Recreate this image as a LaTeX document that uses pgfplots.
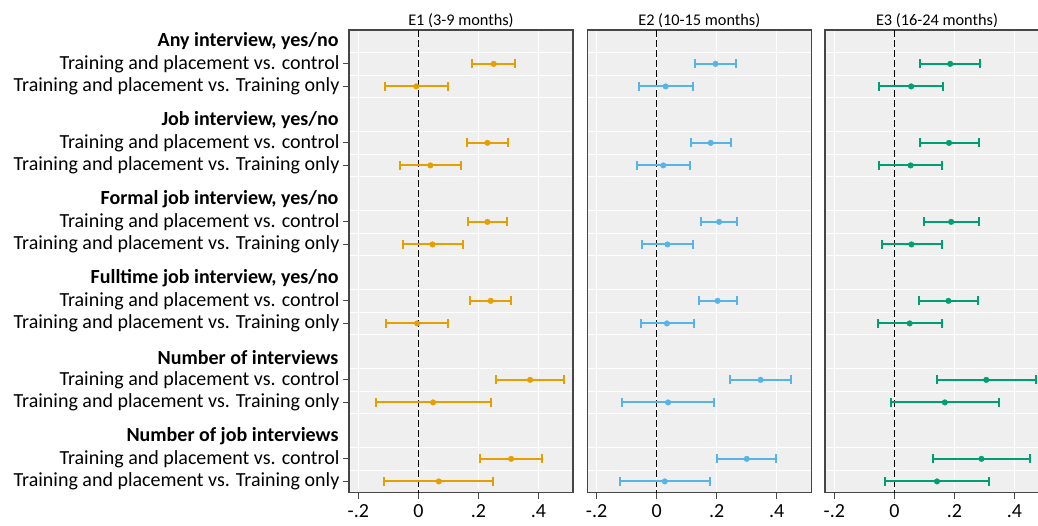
\documentclass[border=0pt]{standalone}
\usepackage{fontspec}
\setmainfont{Carlito}
\usepackage{pgfplots}
\usepackage{pgfplotstable}
\pgfplotsset{compat=1.18}
\definecolor{cE1}{RGB}{230,159,0}
\definecolor{cE2}{RGB}{86,180,233}
\definecolor{cE3}{RGB}{0,158,115}
\definecolor{bgc}{RGB}{239,239,239}
\definecolor{axc}{RGB}{70,70,70}

\pgfplotstableread{
y lo b hi
2 0.179 0.251 0.323
3 -0.110 -0.007 0.100
5.5 0.162 0.230 0.299
6.5 -0.062 0.040 0.141
9 0.166 0.230 0.294
10 -0.051 0.047 0.147
12.5 0.171 0.241 0.310
13.5 -0.109 -0.004 0.100
16 0.260 0.372 0.484
17 -0.142 0.049 0.241
19.5 0.206 0.309 0.413
20.5 -0.113 0.068 0.248
}\tabA
\pgfplotstableread{
y lo b hi
2 0.129 0.196 0.263
3 -0.059 0.030 0.120
5.5 0.114 0.180 0.246
6.5 -0.066 0.022 0.111
9 0.148 0.208 0.269
10 -0.050 0.036 0.122
12.5 0.141 0.203 0.267
13.5 -0.053 0.034 0.124
16 0.244 0.346 0.448
17 -0.117 0.038 0.191
19.5 0.200 0.300 0.399
20.5 -0.123 0.027 0.177
}\tabB
\pgfplotstableread{
y lo b hi
2 0.087 0.186 0.286
3 -0.051 0.056 0.161
5.5 0.086 0.182 0.281
6.5 -0.050 0.054 0.160
9 0.099 0.189 0.281
10 -0.041 0.057 0.157
12.5 0.083 0.180 0.278
13.5 -0.053 0.051 0.157
16 0.142 0.306 0.471
17 -0.011 0.168 0.347
19.5 0.130 0.290 0.452
20.5 -0.032 0.142 0.316
}\tabC

\pgfplotsset{
  panel/.style={
    anchor=south west, scale only axis,
    width=224pt, height=462.7pt,
    xmin=-0.231, xmax=0.515, ymin=0.5, ymax=21, y dir=reverse,
    axis background/.style={fill=bgc},
    axis line style={draw=axc, line width=1.3pt},
    xtick={-0.2,0,0.2,0.4}, xticklabels={-.2,0,.2,.4},
    xmajorgrids, major grid style={white, line width=1.1pt},
    ytick={2,3,5.5,6.5,9,10,12.5,13.5,16,17,19.5,20.5},
    minor ytick={1.5,2.5,3.5,5,6,7,8.5,9.5,10.5,12,13,14,15.5,16.5,17.5,19,20,21},
    yminorgrids, minor grid style={white, line width=1.1pt},
    minor tick length=0pt,
    tick align=outside, major tick length=6pt,
    tick style={draw=axc, line width=1pt},
    xtick pos=lower, ytick pos=left,
    tick label style={font=\fontsize{20}{24}\selectfont, text=black},
    xticklabel style={yshift=-2pt},
    title style={font=\fontsize{16.3}{19}\selectfont, at={(0.5,1)}, anchor=base, yshift=-1pt},
    /pgf/number format/assume math mode=true,
  },
  ci/.style={only marks, mark=*, mark size=2.8pt, color=#1,
    error bars/.cd, x dir=both, x explicit,
    error bar style={line width=2pt, color=#1},
    error mark options={line width=2pt, mark size=4.5pt, color=#1, rotate=90}},
  zl/.style={black, line width=1.2pt, dash pattern=on 7pt off 3pt},
}

\begin{document}
\begin{tikzpicture}[x=1pt,y=1pt]
\useasboundingbox (0,0) rectangle (1038,525);
\begin{axis}[panel, at={(349pt,32.3pt)}, title={E1 (3-9 months)},
  yticklabels={Training and placement vs. control, Training and placement vs. Training only,
    Training and placement vs. control, Training and placement vs. Training only,
    Training and placement vs. control, Training and placement vs. Training only,
    Training and placement vs. control, Training and placement vs. Training only,
    Training and placement vs. control, Training and placement vs. Training only,
    Training and placement vs. control, Training and placement vs. Training only},
  extra y ticks={1,4.5,8,11.5,15,18.5},
  extra y tick labels={{Any interview, yes/no},{Job interview, yes/no},{Formal job interview, yes/no},{Fulltime job interview, yes/no},{Number of interviews},{Number of job interviews}},
  extra y tick style={major tick length=0pt, yticklabel style={font=\fontsize{20}{24}\selectfont\bfseries, xshift=-7pt}},
]
\addplot[zl] coordinates {(0,0.5) (0,21)};
\addplot[ci=cE1] table[x=b, y=y, x error plus expr=\thisrow{hi}-\thisrow{b}, x error minus expr=\thisrow{b}-\thisrow{lo}] {\tabA};
\end{axis}
\begin{axis}[panel, at={(587.3pt,32.3pt)}, title={E2 (10-15 months)},
  yticklabels={}, ytick style={draw=none}]
\addplot[zl] coordinates {(0,0.5) (0,21)};
\addplot[ci=cE2] table[x=b, y=y, x error plus expr=\thisrow{hi}-\thisrow{b}, x error minus expr=\thisrow{b}-\thisrow{lo}] {\tabB};
\end{axis}
\begin{axis}[panel, at={(825pt,32.3pt)}, title={E3 (16-24 months)},
  yticklabels={}, ytick style={draw=none}]
\addplot[zl] coordinates {(0,0.5) (0,21)};
\addplot[ci=cE3] table[x=b, y=y, x error plus expr=\thisrow{hi}-\thisrow{b}, x error minus expr=\thisrow{b}-\thisrow{lo}] {\tabC};
\end{axis}
\end{tikzpicture}
\end{document}
